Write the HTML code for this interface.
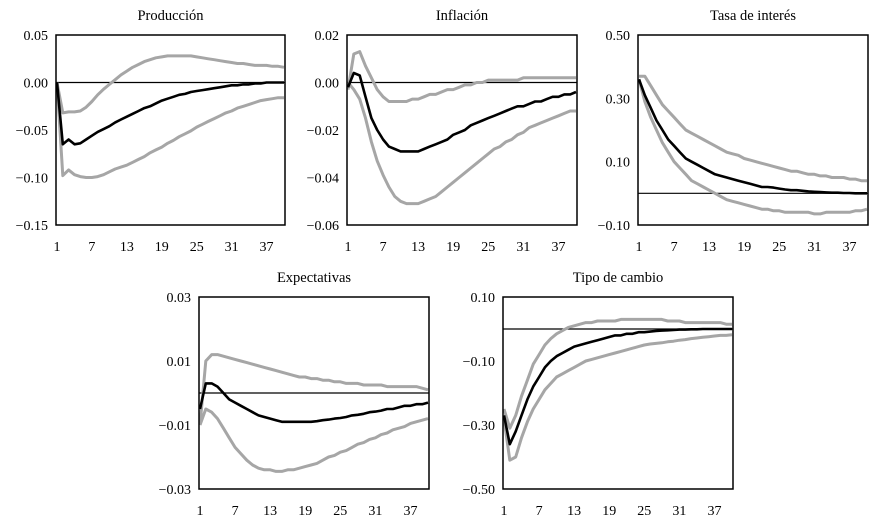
<!DOCTYPE html>
<html><head><meta charset="utf-8"><style>
html,body{margin:0;padding:0;background:#fff;}
svg{display:block;font-family:"Liberation Serif",serif;}
</style></head><body>
<svg id="c" width="889" height="526" xmlns="http://www.w3.org/2000/svg"></svg>
<script>
const periods = Array.from({length:40},(_,i)=>i+1);
const xTicks = [1,7,13,19,25,31,37];
const titles = ["Producción","Inflación","Tasa de interés","Expectativas","Tipo de cambio"];
const yTicks1 = [0.05,0.00,-0.05,-0.10,-0.15];
const yTicks2 = [0.02,0.00,-0.02,-0.04,-0.06];
const yTicks3 = [0.50,0.30,0.10,-0.10];
const yTicks4 = [0.03,0.01,-0.01,-0.03];
const yTicks5 = [0.10,-0.10,-0.30,-0.50];
const prodMid = [0,-0.065,-0.06,-0.065,-0.064,-0.06,-0.056,-0.052,-0.049,-0.046,-0.042,-0.039,-0.036,-0.033,-0.03,-0.027,-0.025,-0.022,-0.019,-0.017,-0.015,-0.013,-0.012,-0.010,-0.009,-0.008,-0.007,-0.006,-0.005,-0.004,-0.003,-0.003,-0.002,-0.002,-0.001,-0.001,0,0,0,0];
const prodUp = [0,-0.032,-0.031,-0.031,-0.03,-0.026,-0.02,-0.013,-0.007,-0.002,0.003,0.008,0.012,0.016,0.019,0.022,0.024,0.026,0.027,0.028,0.028,0.028,0.028,0.028,0.027,0.026,0.025,0.024,0.023,0.022,0.021,0.02,0.02,0.019,0.018,0.018,0.018,0.017,0.017,0.016];
const prodLo = [0,-0.098,-0.092,-0.097,-0.099,-0.1,-0.1,-0.099,-0.097,-0.094,-0.091,-0.089,-0.087,-0.084,-0.081,-0.078,-0.074,-0.071,-0.068,-0.064,-0.061,-0.057,-0.054,-0.051,-0.047,-0.044,-0.041,-0.038,-0.035,-0.032,-0.03,-0.027,-0.025,-0.023,-0.021,-0.019,-0.018,-0.017,-0.016,-0.016];
const infMid = [-0.002,0.004,0.003,-0.006,-0.015,-0.02,-0.024,-0.027,-0.028,-0.029,-0.029,-0.029,-0.029,-0.028,-0.027,-0.026,-0.025,-0.024,-0.022,-0.021,-0.02,-0.018,-0.017,-0.016,-0.015,-0.014,-0.013,-0.012,-0.011,-0.010,-0.010,-0.009,-0.008,-0.008,-0.007,-0.006,-0.006,-0.005,-0.005,-0.004];
const infUp = [-0.003,0.012,0.013,0.007,0.002,-0.003,-0.006,-0.008,-0.008,-0.008,-0.008,-0.007,-0.007,-0.006,-0.005,-0.005,-0.004,-0.003,-0.003,-0.002,-0.001,-0.001,0,0,0.001,0.001,0.001,0.001,0.001,0.001,0.002,0.002,0.002,0.002,0.002,0.002,0.002,0.002,0.002,0.002];
const infLo = [0,-0.003,-0.007,-0.015,-0.025,-0.033,-0.039,-0.044,-0.048,-0.050,-0.051,-0.051,-0.051,-0.050,-0.049,-0.048,-0.046,-0.044,-0.042,-0.040,-0.038,-0.036,-0.034,-0.032,-0.030,-0.028,-0.027,-0.025,-0.024,-0.022,-0.021,-0.019,-0.018,-0.017,-0.016,-0.015,-0.014,-0.013,-0.012,-0.012];
const tasaMid = [0.36,0.31,0.27,0.23,0.2,0.17,0.15,0.13,0.11,0.10,0.09,0.08,0.07,0.06,0.055,0.05,0.045,0.04,0.035,0.03,0.025,0.02,0.02,0.018,0.015,0.012,0.01,0.01,0.008,0.006,0.005,0.004,0.003,0.002,0.002,0.001,0.001,0,0,0];
const tasaUp = [0.37,0.37,0.34,0.31,0.28,0.26,0.24,0.22,0.20,0.19,0.18,0.17,0.16,0.15,0.14,0.13,0.125,0.12,0.11,0.105,0.1,0.095,0.09,0.085,0.08,0.075,0.07,0.07,0.065,0.06,0.06,0.055,0.055,0.05,0.05,0.05,0.045,0.045,0.04,0.04];
const tasaLo = [0.36,0.29,0.24,0.2,0.16,0.13,0.10,0.08,0.06,0.04,0.03,0.02,0.01,0.0,-0.01,-0.02,-0.025,-0.03,-0.035,-0.04,-0.045,-0.05,-0.05,-0.055,-0.055,-0.06,-0.06,-0.06,-0.06,-0.06,-0.065,-0.065,-0.06,-0.06,-0.06,-0.06,-0.06,-0.055,-0.055,-0.05];
const expMid = [-0.005,0.003,0.003,0.002,0,-0.002,-0.003,-0.004,-0.005,-0.006,-0.007,-0.0075,-0.008,-0.0085,-0.009,-0.009,-0.009,-0.009,-0.009,-0.009,-0.0088,-0.0085,-0.0083,-0.008,-0.0078,-0.0075,-0.007,-0.0068,-0.0065,-0.006,-0.0058,-0.0055,-0.005,-0.005,-0.0045,-0.004,-0.004,-0.0035,-0.0035,-0.003];
const expUp = [-0.010,0.010,0.012,0.012,0.0115,0.011,0.0105,0.01,0.0095,0.009,0.0085,0.008,0.0075,0.007,0.0065,0.006,0.0055,0.005,0.005,0.0045,0.0045,0.004,0.004,0.0035,0.0035,0.003,0.003,0.003,0.0025,0.0025,0.0025,0.0025,0.002,0.002,0.002,0.002,0.002,0.002,0.0015,0.001];
const expLo = [-0.010,-0.005,-0.006,-0.008,-0.011,-0.014,-0.017,-0.019,-0.021,-0.0225,-0.0235,-0.024,-0.024,-0.0245,-0.0245,-0.024,-0.024,-0.0235,-0.023,-0.0225,-0.022,-0.021,-0.020,-0.0195,-0.0185,-0.018,-0.017,-0.016,-0.0155,-0.0145,-0.014,-0.013,-0.0125,-0.0115,-0.011,-0.0105,-0.0095,-0.009,-0.0085,-0.008];
const tcMid = [-0.27,-0.36,-0.32,-0.27,-0.22,-0.18,-0.15,-0.12,-0.10,-0.085,-0.075,-0.065,-0.055,-0.05,-0.045,-0.04,-0.035,-0.03,-0.025,-0.02,-0.02,-0.015,-0.015,-0.01,-0.01,-0.008,-0.006,-0.005,-0.004,-0.003,-0.002,-0.002,-0.001,-0.001,0,0,0,0,0,0];
const tcUp = [-0.25,-0.31,-0.27,-0.21,-0.16,-0.11,-0.08,-0.05,-0.03,-0.015,-0.005,0.005,0.01,0.015,0.02,0.02,0.025,0.025,0.025,0.025,0.03,0.03,0.03,0.03,0.03,0.03,0.03,0.03,0.025,0.025,0.025,0.02,0.02,0.02,0.02,0.02,0.02,0.02,0.015,0.015];
const tcLo = [-0.28,-0.41,-0.40,-0.34,-0.29,-0.25,-0.22,-0.19,-0.17,-0.15,-0.14,-0.13,-0.12,-0.11,-0.10,-0.095,-0.09,-0.085,-0.08,-0.075,-0.07,-0.065,-0.06,-0.055,-0.05,-0.047,-0.045,-0.043,-0.04,-0.038,-0.035,-0.033,-0.03,-0.028,-0.026,-0.024,-0.022,-0.02,-0.02,-0.018];

const NS="http://www.w3.org/2000/svg";
const svg=document.getElementById('c');
function mk(tag,attrs,parent){const e=document.createElementNS(NS,tag);for(const k in attrs)e.setAttribute(k,attrs[k]);(parent||svg).appendChild(e);return e;}
function fmt(v){const s=Math.abs(v).toFixed(2);return (v<0?"\u2212":"")+s;}

const panels=[
 {slug:"produccion",x:56,y:35,w:229,h:190,min:-0.15,max:0.05,ticks:yTicks1,s:[prodUp,prodLo,prodMid]},
 {slug:"inflacion",x:347,y:35,w:230,h:190,min:-0.06,max:0.02,ticks:yTicks2,s:[infUp,infLo,infMid]},
 {slug:"tasa-interes",x:638,y:35,w:230,h:190,min:-0.10,max:0.50,ticks:yTicks3,s:[tasaUp,tasaLo,tasaMid]},
 {slug:"expectativas",x:199,y:297,w:230,h:192,min:-0.03,max:0.03,ticks:yTicks4,s:[expUp,expLo,expMid]},
 {slug:"tipo-cambio",x:503,y:297,w:230,h:192,min:-0.50,max:0.10,ticks:yTicks5,s:[tcUp,tcLo,tcMid]}
];
panels.forEach((p,pi)=>{
  const g=mk('g',{});
  
  
  const xs=t=>p.x+1+(t-1)*(p.w-2)/(periods.length-1);
  const ys=v=>p.y+(p.max-v)/(p.max-p.min)*p.h;
  const t=mk('text',{x:p.x+p.w/2,y:p.y-15,'text-anchor':'middle','font-size':'14.5'},g);
  t.textContent=titles[pi];
  
  
  p.ticks.forEach(v=>{
    const l=mk('text',{x:p.x-8,y:ys(v)+5,'text-anchor':'end','font-size':'14'},g);
    l.textContent=fmt(v);
    
    
  });
  xTicks.forEach(v=>{
    const l=mk('text',{x:xs(v),y:p.y+p.h+26,'text-anchor':'middle','font-size':'14'},g);
    l.textContent=v;
    
    
  });
  const z=mk('line',{x1:p.x,x2:p.x+p.w,y1:ys(0),y2:ys(0),stroke:'#000','stroke-width':'1.2'},g);
  
  
  const names=['upper-band','lower-band','impulse-response'];
  p.s.forEach((arr,si)=>{
    const d=arr.map((v,i)=>(i?'L':'M')+xs(periods[i]).toFixed(1)+','+ys(v).toFixed(1)).join(' ');
    const path=mk('path',{d:d,fill:'none',stroke:si<2?'#a6a6a6':'#000','stroke-width':si<2?'3':'2.6','stroke-linejoin':'round'},g);
    
    
  });
  const r=mk('rect',{x:p.x,y:p.y,width:p.w,height:p.h,fill:'none',stroke:'#000','stroke-width':'1.5'},g);
  
  
});
</script>
</body></html>
